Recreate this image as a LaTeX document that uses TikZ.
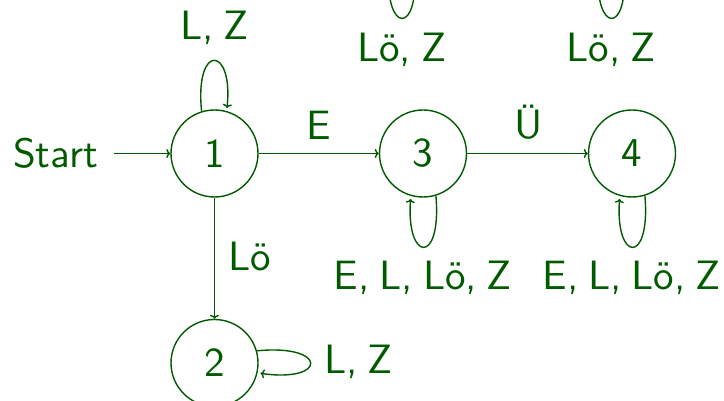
\documentclass[tikz,border=0pt]{standalone}
\usetikzlibrary{arrows.meta}
\definecolor{autgreen}{RGB}{0,90,0}
% sans serif at its 10pt design size, enlarged, with a tighter word space
\font\autfont="[lmsans10-regular.otf]" at 41pt
\fontdimen2\autfont=9.8pt
\begin{document}
\begin{tikzpicture}[x=1pt,y=1pt,
  every node/.style={text=autgreen,font=\autfont},
  state/.style={circle,draw=autgreen,line width=1.4pt,minimum size=87pt,inner sep=0pt},
  hiddenstate/.style={circle,minimum size=87pt,inner sep=0pt},
  edge/.style={draw=autgreen,line width=1.4pt,-{To[length=4pt,width=9pt]}},
  loopedge/.style={edge,shorten >=3pt},
  lbl/.style={anchor=base,inner sep=0pt}]
\useasboundingbox (0,0) rectangle (724,401);
\clip (0,0) rectangle (724,401);

% states
\node[state] (n1) at (214.5,247.5) {1};
\node[state] (n2) at (214.5,38) {2};
\node[state] (n3) at (423,247.5) {3};
\node[state] (n4) at (632,247.5) {4};
% states above the visible area, only their loops reach down into view
\node[hiddenstate] (h5) at (401.5,476) {};
\node[hiddenstate] (h6) at (611,476) {};

% start marker
\node[lbl,inner xsep=15.7pt] (start) at (55.5,233) {Start};
\draw[edge] (start.east |- n1) -- (n1);

% transitions between states
\draw[edge] (n1) -- (n3);
\draw[edge] (n3) -- (n4);
\draw[edge] (n1) -- (n2);

% self loops
\draw[loopedge] (n1.107) .. controls +(-7,69) and +(7,65) .. (n1.74);
\draw[loopedge] (n3.-73) .. controls +(6,-70) and +(-5,-66) .. (n3.-106);
\draw[loopedge] (n4.-73) .. controls +(6,-70) and +(-5,-66) .. (n4.-106);
\draw[loopedge] (n2.16) .. controls +(71,7) and +(70,-10) .. (n2.-13);
\draw[loopedge] (h5.-73) .. controls +(6,-70) and +(-5,-66) .. (h5.-106);
\draw[loopedge] (h6.-73) .. controls +(6,-70) and +(-5,-66) .. (h6.-106);

% labels
\node[lbl] (l13) at (319,261.7) {E};
\node[lbl] (l34) at (528.3,262) {Ü};
\node[lbl] (l12) at (250,130.3) {Lö};
\node[lbl] (ln1) at (214.7,361) {L, Z};
\node[lbl] (ln2) at (358.3,27) {L, Z};
\node[lbl] (ln3) at (423,111) {E, L, Lö, Z};
\node[lbl] (ln4) at (631.7,111) {E, L, Lö, Z};
\node[lbl] (lh5) at (401.7,339) {Lö, Z};
\node[lbl] (lh6) at (611,339) {Lö, Z};
\end{tikzpicture}
\end{document}
